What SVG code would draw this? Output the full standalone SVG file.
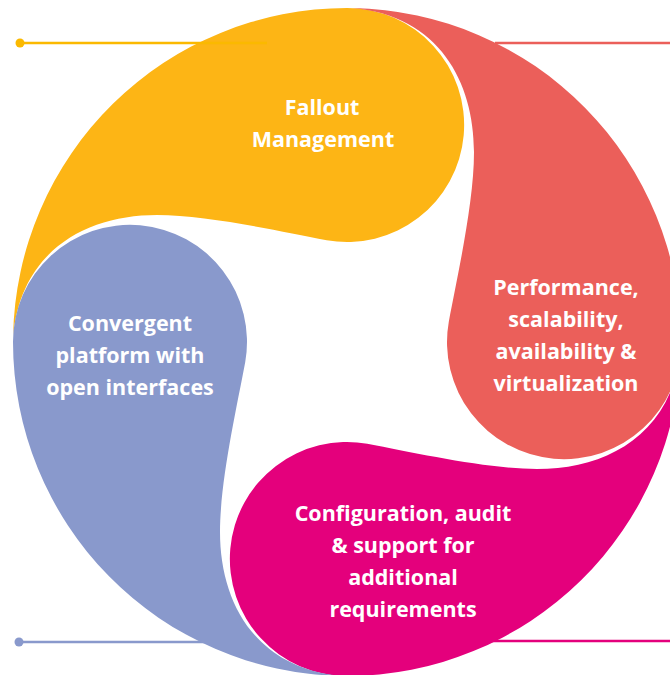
<svg xmlns="http://www.w3.org/2000/svg" width="670" height="675" viewBox="0 0 670 675">
<style>
.lbl{font-family:"Open Sans","Noto Sans","Liberation Sans",sans-serif;font-weight:700;font-size:21.5px;fill:#ffffff;text-anchor:middle}
.ln{stroke-width:2.5;fill:none}
</style>
<defs>
<path id="blade" d="M -333.9,-5.8 A 334 334 0 0 1 0,-334 A 117 117 0 1 1 -20.3,-101.8 C -69,-111 -140,-127 -190,-127 C -260,-127 -326,-92 -333.9,-5.8 Z"/>
</defs>
<g id="connectors">
<line class="ln" x1="495" y1="43" x2="670" y2="43" stroke="#EB5F5A"/>
<line class="ln" x1="18" y1="642" x2="220" y2="642" stroke="#8999CC"/>
<line class="ln" x1="480" y1="641" x2="670" y2="641" stroke="#E4007C"/>
</g>
<g id="fallout">
<use href="#blade" transform="translate(347,342)" fill="#FDB515"/>
</g>
<g id="performance">
<use href="#blade" transform="translate(347,342) rotate(90)" fill="#EB5F5A"/>
</g>
<g id="configuration">
<use href="#blade" transform="translate(347,342) rotate(180)" fill="#E4007C"/>
</g>
<g id="convergent">
<use href="#blade" transform="translate(347,342) rotate(270)" fill="#8999CC"/>
</g>
<g id="connector-dots">
<line class="ln" x1="20" y1="43" x2="267" y2="43" stroke="#FBB900"/>
<circle cx="20" cy="43" r="4.5" fill="#FBB900"/>
<circle cx="19" cy="642" r="4.5" fill="#8999CC"/>
</g>
<g id="labels">
<text class="lbl" x="322" y="115">Fallout</text>
<text class="lbl" x="323" y="147">Management</text>
<text class="lbl" x="566" y="295">Performance,</text>
<text class="lbl" x="566" y="327">scalability,</text>
<text class="lbl" x="566" y="359">availability &amp;</text>
<text class="lbl" x="566" y="391">virtualization</text>
<text class="lbl" x="130" y="331">Convergent</text>
<text class="lbl" x="130" y="363">platform with</text>
<text class="lbl" x="130" y="395">open interfaces</text>
<text class="lbl" x="403" y="521">Configuration, audit</text>
<text class="lbl" x="403" y="553">&amp; support for</text>
<text class="lbl" x="403" y="585">additional</text>
<text class="lbl" x="403" y="617">requirements</text>
</g>
</svg>
